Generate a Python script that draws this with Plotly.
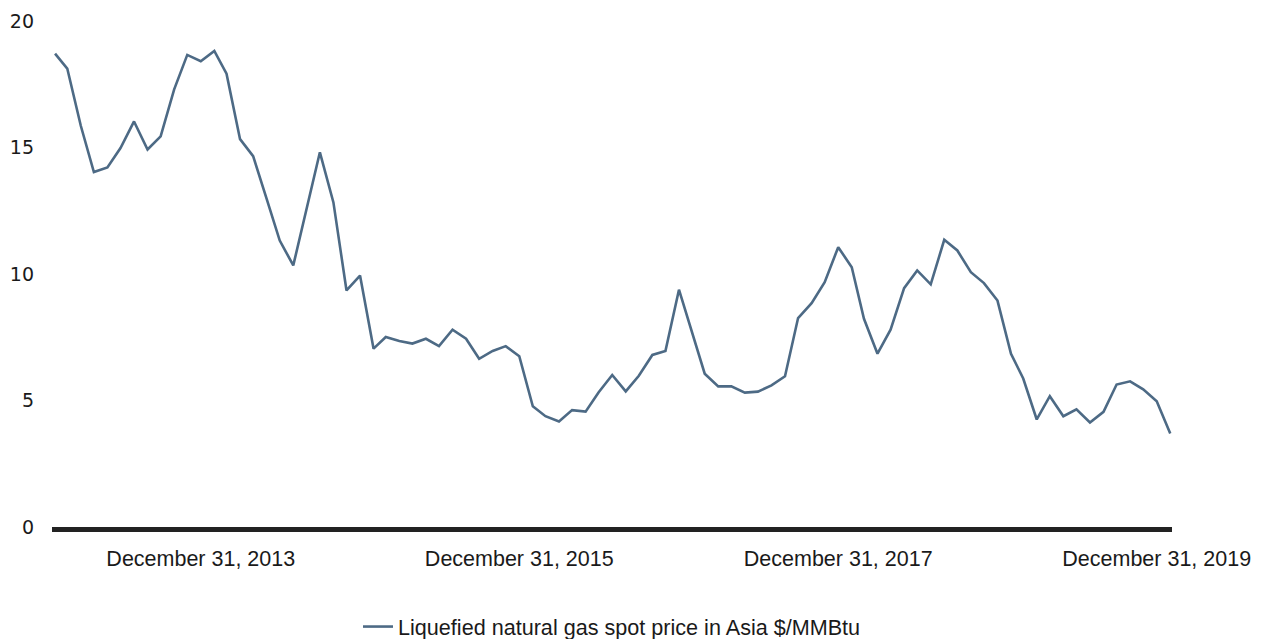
import pandas as pd
import plotly.graph_objects as go

# Monthly LNG spot price in Asia ($/MMBtu), Jan 2013 - Jan 2020 (month-end)
dates = pd.date_range("2013-01-31", periods=85, freq="ME")
prices = [
    18.71, 18.12, 15.86, 14.03, 14.21, 14.98, 16.03, 14.92, 15.44, 17.30, 18.66, 18.41,
    18.82, 17.92, 15.33, 14.66, 12.97, 11.32, 10.34, 12.57, 14.81, 12.83, 9.35, 9.94,
    7.05, 7.51, 7.35, 7.25, 7.44, 7.15, 7.80, 7.44, 6.65, 6.96, 7.15, 6.75,
    4.77, 4.38, 4.17, 4.62, 4.56, 5.33, 6.01, 5.36, 5.98, 6.80, 6.96, 9.38,
    7.67, 6.06, 5.56, 5.56, 5.31, 5.35, 5.60, 5.96, 8.26, 8.85, 9.68, 11.06,
    10.27, 8.23, 6.85, 7.80, 9.44, 10.14, 9.59, 11.35, 10.93, 10.07, 9.64, 8.95,
    6.85, 5.87, 4.25, 5.17, 4.38, 4.65, 4.13, 4.55, 5.63, 5.76, 5.44, 4.97,
    3.70,
]
series_name = "Liquefied natural gas spot price in Asia $/MMBtu"

x_tick_values = ["2013-12-31", "2015-12-31", "2017-12-31", "2019-12-31"]
x_tick_labels = ["December 31, 2013", "December 31, 2015", "December 31, 2017", "December 31, 2019"]
y_tick_values = [0, 5, 10, 15, 20]
y_tick_labels = ["0", "5", "10", "15", "20"]

fig = go.Figure()
fig.add_trace(go.Scatter(
    x=dates, y=prices, mode="lines", name=series_name,
    line=dict(color="#4d6a85", width=2.6),
))

fig.update_layout(
    width=1260, height=631,
    margin=dict(l=44, r=96, t=13, b=112, pad=0, autoexpand=False),
    paper_bgcolor="white", plot_bgcolor="white",
    showlegend=True,
    legend=dict(
        orientation="h", x=0.5, xanchor="center",
        yref="container", y=0.019, yanchor="middle",
        font=dict(family="Liberation Sans, Arial, sans-serif", size=21.6, color="#1a1a1a"),
    ),
    xaxis=dict(
        type="date",
        range=["2013-01-24", "2020-02-04"],
        tickvals=x_tick_values, ticktext=x_tick_labels,
        showgrid=False, zeroline=False,
        showline=True, linewidth=5, linecolor="#222222",
        ticks="", ticklabelstandoff=8,
        tickfont=dict(family="Liberation Sans, Arial, sans-serif", size=21.5, color="#1a1a1a"),
    ),
    yaxis=dict(
        range=[0, 20],
        tickvals=y_tick_values, ticktext=y_tick_labels,
        showgrid=False, zeroline=False, showline=False,
        ticks="", ticklabelstandoff=17,
        tickfont=dict(family="DejaVu Sans, Verdana, sans-serif", size=19, color="#1a1a1a"),
    ),
)

fig.write_html("out.html")
